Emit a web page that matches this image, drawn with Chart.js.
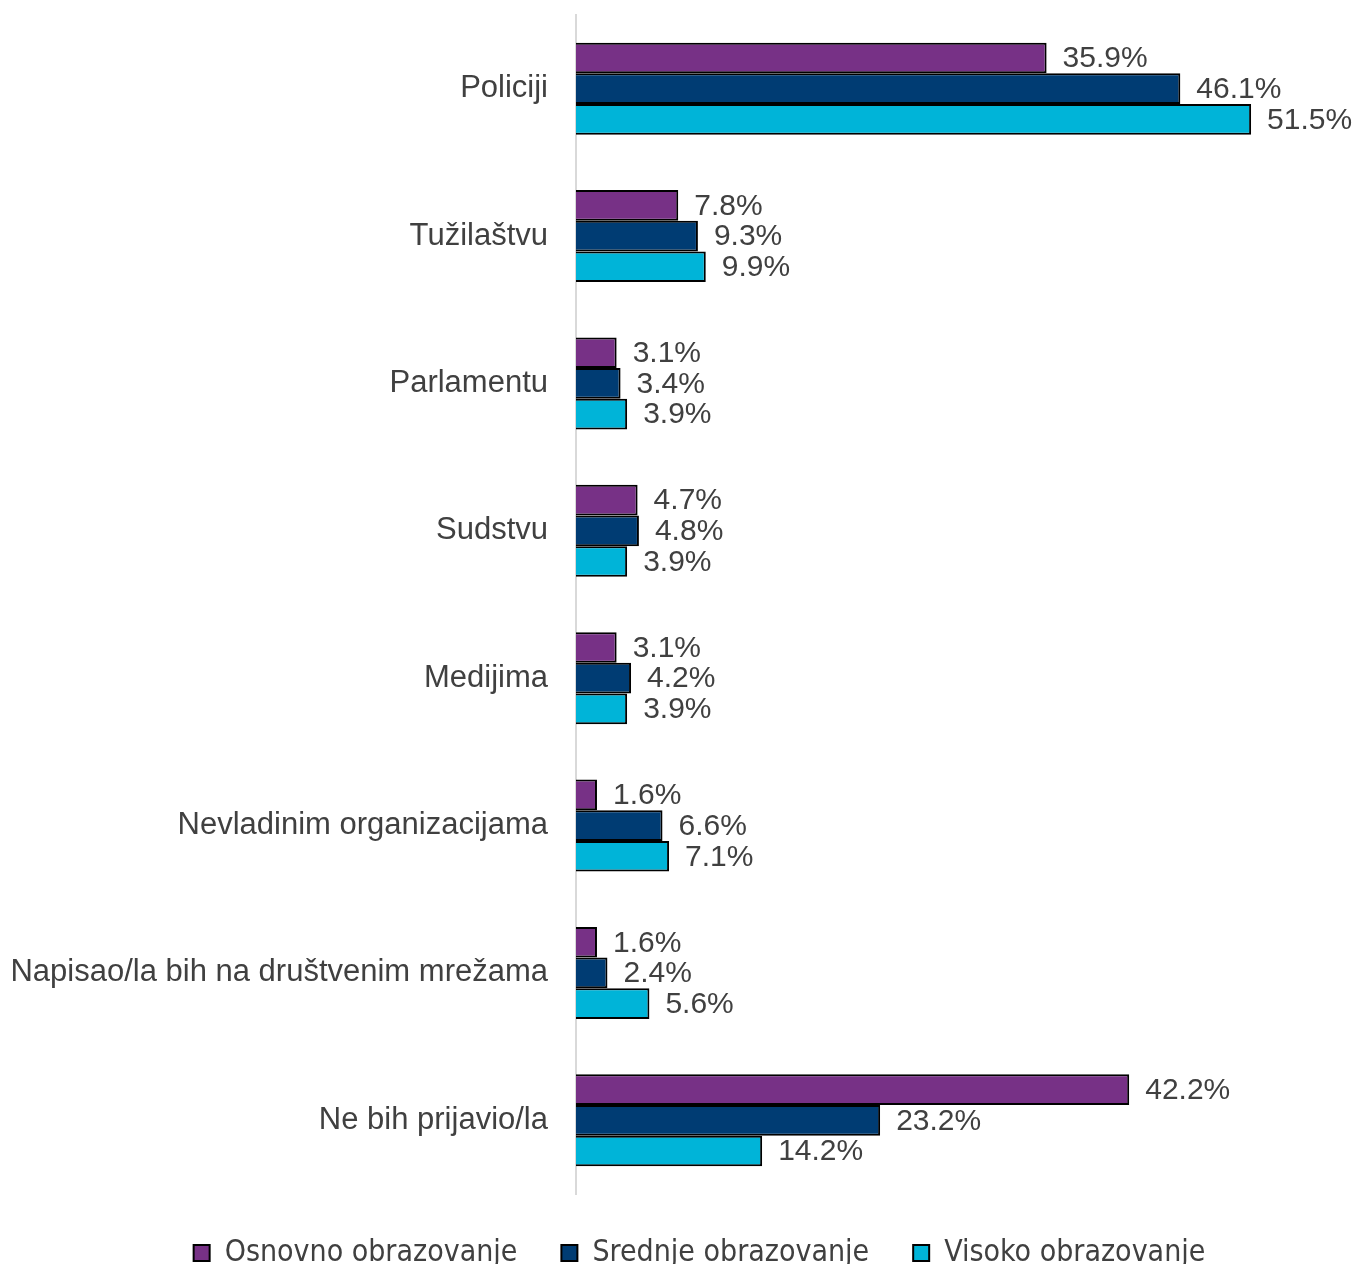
<!DOCTYPE html>
<html>
<head>
<meta charset="utf-8">
<script src="https://cdn.jsdelivr.net/npm/chart.js@4"></script>
<style>
  html, body { margin: 0; padding: 0; background: #fff; overflow: hidden; }
  #wrap { width: 1355px; height: 1278px; }
</style>
</head>
<body>
<div id="wrap"><canvas id="chart"></canvas></div>
<script>
const categories = [
  'Policiji',
  'Tužilaštvu',
  'Parlamentu',
  'Sudstvu',
  'Medijima',
  'Nevladinim organizacijama',
  'Napisao/la bih na društvenim mrežama',
  'Ne bih prijavio/la'
];
const osnovno = [35.9, 7.8, 3.1, 4.7, 3.1, 1.6, 1.6, 42.2];
const srednje = [46.1, 9.3, 3.4, 4.8, 4.2, 6.6, 2.4, 23.2];
const visoko = [51.5, 9.9, 3.9, 3.9, 3.9, 7.1, 5.6, 14.2];
const seriesNames = ['Osnovno obrazovanje', 'Srednje obrazovanje', 'Visoko obrazovanje'];
const colors = ['#773186', '#003C73', '#00B4D8'];
const textColor = '#404040';

// percentage labels to the right of each bar
const barLabels = {
  id: 'barLabels',
  afterDatasetsDraw(chart) {
    const ctx = chart.ctx;
    ctx.save();
    ctx.font = '30px "Liberation Sans", Arial, sans-serif';
    ctx.fillStyle = textColor;
    ctx.textAlign = 'left';
    ctx.textBaseline = 'middle';
    chart.data.datasets.forEach((ds, i) => {
      chart.getDatasetMeta(i).data.forEach((bar, j) => {
        ctx.fillText(ds.data[j].toFixed(1) + '%', bar.x + 16, bar.y + 1);
      });
    });
    ctx.restore();
  }
};

// legend in the original sits a bit right of centre
const shiftLegend = {
  id: 'shiftLegend',
  afterLayout(chart) {
    chart.legend.left += 51;
    chart.legend.right += 51;
  }
};

new Chart(document.getElementById('chart'), {
  type: 'bar',
  data: {
    labels: categories,
    datasets: [osnovno, srednje, visoko].map((d, i) => ({
      label: seriesNames[i],
      data: d,
      backgroundColor: colors[i],
      borderColor: '#000',
      borderWidth: 2,
      categoryPercentage: 0.625,
      barPercentage: 1
    }))
  },
  options: {
    indexAxis: 'y',
    responsive: true,
    maintainAspectRatio: false,
    animation: false,
    layout: { padding: { top: 15, right: 58, left: 0, bottom: 0 } },
    scales: {
      x: {
        display: false,
        min: 0,
        max: 55
      },
      y: {
        grid: { display: false, drawTicks: false },
        border: { display: true, color: '#d9d9d9', width: 2 },
        ticks: {
          color: textColor,
          padding: 28,
          font: { family: '"Liberation Sans", Arial, sans-serif', size: 31 }
        },
        afterFit(scale) {
          scale.width = 576;
          scale.paddingTop = 0;
          scale.paddingBottom = 0;
        }
      }
    },
    plugins: {
      legend: {
        position: 'bottom',
        labels: {
          color: textColor,
          boxWidth: 16,
          boxHeight: 16,
          padding: 44,
          font: { family: '"DejaVu Sans Condensed", "DejaVu Sans", sans-serif', size: 30 }
        }
      },
      tooltip: { enabled: false }
    }
  },
  plugins: [barLabels, shiftLegend]
});
</script>
</body>
</html>
